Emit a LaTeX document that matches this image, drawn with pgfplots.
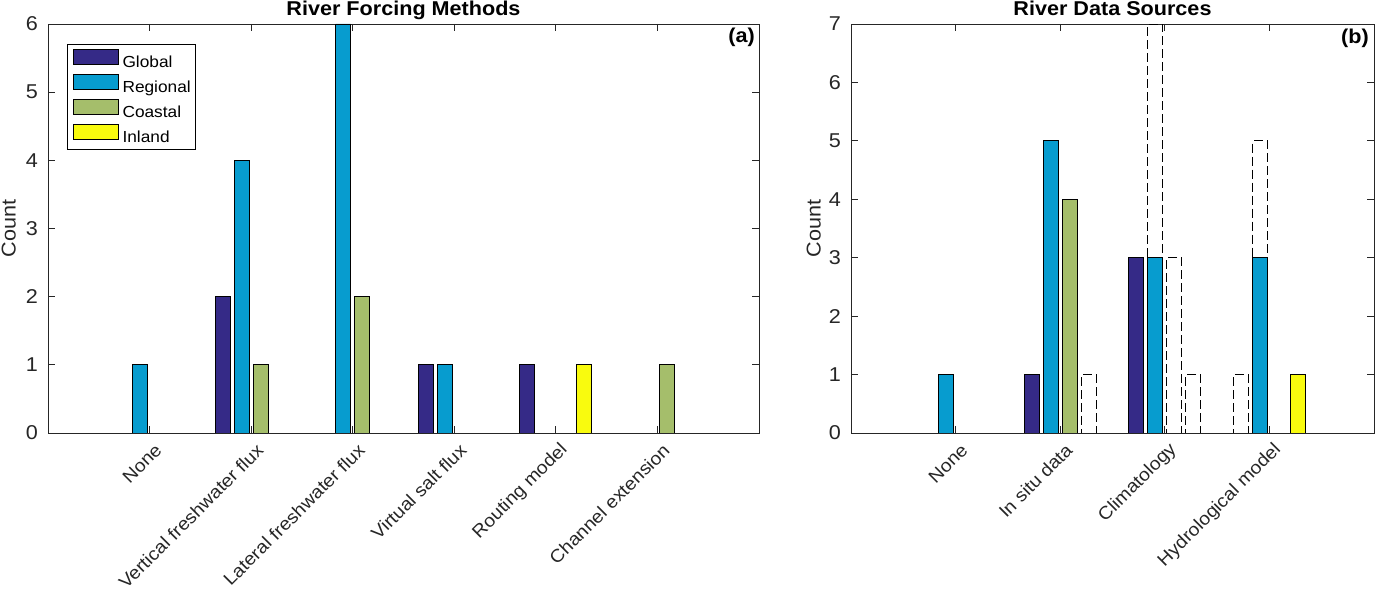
\documentclass[border=0pt]{standalone}
\usepackage{fontspec}
\setmainfont{Liberation Sans}[FakeStretch=1.08]
\usepackage{pgfplots}
\pgfplotsset{compat=1.18}

\definecolor{cglobal}{RGB}{53,42,135}
\definecolor{cregional}{RGB}{7,156,207}
\definecolor{ccoastal}{RGB}{165,190,107}
\definecolor{cinland}{RGB}{249,251,14}
\definecolor{axgray}{RGB}{38,38,38}

\pgfplotsset{
  every axis title shift=0pt,
  matlabbars/.style={
    scale only axis,
    height=409pt,
    ymin=0,
    font=\fontsize{20}{23}\selectfont,
    /pgf/number format/assume math mode=true,
    axis line style={axgray, line width=0.9pt},
    tick style={axgray, line width=0.9pt},
    tick align=inside,
    major tick length=7pt,
    minor tick num=0,
    ytick distance=1,
    ticklabel style={text=axgray},
    yticklabel style={inner sep=0pt, xshift=-10pt},
    xticklabel style={font=\fontsize{18}{21}\selectfont, inner sep=0pt, xshift=9pt, yshift=-14pt, rotate=45, anchor=east},
    title style={font=\fontsize{20}{23}\selectfont\bfseries, at={(rel axis cs:0.5,1)}, anchor=base, inner sep=0pt, yshift=8pt},
    ylabel={Count},
    every axis plot/.append style={ybar, bar width=15pt, draw=black, line width=0.9pt},
  },
}

\begin{document}
\begin{tikzpicture}[x=1pt,y=1pt]
\path[use as bounding box] (0,0) rectangle (1375,596);

% (a) River forcing methods
\begin{axis}[
  matlabbars,
  at={(48pt,163pt)}, anchor=south west,
  width=711pt,
  xmin=0, xmax=7, ymax=6,
  xtick={1,2,3,4,5,6},
  xticklabels={None, Vertical freshwater flux, Lateral freshwater flux, Virtual salt flux, Routing model, Channel extension},
  title={River Forcing Methods},
  ylabel style={at={(rel axis cs:0,0.5)}, anchor=south, inner sep=0pt, yshift=32pt, text=axgray},
  legend style={at={(rel axis cs:0.027,0.951)}, anchor=north west, draw=black, line width=0.9pt,
    font=\fontsize{16}{19}\selectfont, inner sep=5pt, row sep=5pt,
    nodes={inner sep=0pt, text=black},
    /tikz/every odd column/.append style={column sep=4pt}},
  legend cell align=left,
  legend image code/.code={\draw[#1, line width=0.9pt] (0pt,-2pt) rectangle (45pt,13pt);},
]
\addplot[fill=cglobal, bar shift=-28.5pt] coordinates {(2,2) (4,1) (5,1)};
\addplot[fill=cregional, bar shift=-9.5pt] coordinates {(1,1) (2,4) (3,6) (4,1)};
\addplot[fill=ccoastal, bar shift=9.5pt] coordinates {(2,1) (3,2) (6,1)};
\addplot[fill=cinland, bar shift=28.5pt] coordinates {(5,1)};
\legend{Global, Regional, Coastal, Inland}
\node[anchor=north east, inner sep=0pt, font=\fontsize{20}{23}\selectfont\bfseries] at (rel axis cs:1,1) [xshift=-4pt, yshift=-4pt] {(a)};
\end{axis}

% (b) River data sources
\begin{axis}[
  matlabbars,
  at={(851pt,163pt)}, anchor=south west,
  width=523pt,
  xmin=0, xmax=5, ymax=7,
  xtick={1,2,3,4},
  xticklabels={None, In situ data, Climatology, Hydrological model},
  title={River Data Sources},
  ylabel style={at={(rel axis cs:0,0.5)}, anchor=south, inner sep=0pt, yshift=30pt, text=axgray},
]
% dashed outlines (drawn first, solid bars on top)
\addplot[fill=none, dash pattern=on 9pt off 4pt, bar shift=-28.5pt] coordinates {(4,1)};
\addplot[fill=none, dash pattern=on 9pt off 4pt, bar shift=-9.5pt] coordinates {(3,7) (4,5)};
\addplot[fill=none, dash pattern=on 9pt off 4pt, bar shift=9.5pt] coordinates {(3,3)};
\addplot[fill=none, dash pattern=on 9pt off 4pt, bar shift=28.5pt] coordinates {(2,1) (3,1)};
% solid bars
\addplot[fill=cglobal, bar shift=-28.5pt] coordinates {(2,1) (3,3)};
\addplot[fill=cregional, bar shift=-9.5pt] coordinates {(1,1) (2,5) (3,3) (4,3)};
\addplot[fill=ccoastal, bar shift=9.5pt] coordinates {(2,4)};
\addplot[fill=cinland, bar shift=28.5pt] coordinates {(4,1)};
\node[anchor=north east, inner sep=0pt, font=\fontsize{20}{23}\selectfont\bfseries] at (rel axis cs:1,1) [xshift=-5pt, yshift=-5pt] {(b)};
\end{axis}
\end{tikzpicture}
\end{document}
